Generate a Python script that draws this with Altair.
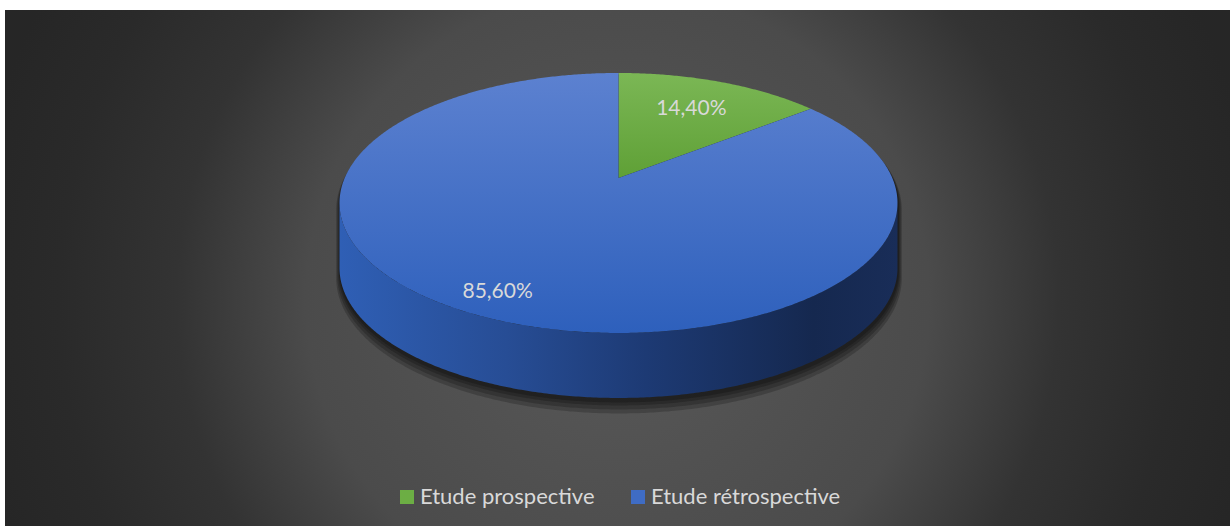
import math
import altair as alt

# ---- data ----
categories = ["Etude prospective", "Etude rétrospective"]
values = [14.4, 85.6]
labels = ["14,40%", "85,60%"]

# ---- layout / style constants ----
VIEW_W, VIEW_H = 1225, 516
S = 273.8                  # horizontal radius scale (px)
RATIO = 125.2 / 273.8      # vertical squash of the tilted disc
K = 0.192                  # perspective strength
THICK = 65 / S             # disc thickness (units)
APEX = [613.5, 168.0]      # pie centre in view pixels
LABEL_FRAC = [0.68, 0.86]

PROJ = dict(type="identity", reflectY=True, scale=S, translate=APEX)


def proj(deg, f=1.0):
    t = math.radians(deg)
    w = 1 + K * f * math.cos(t)
    return [f * math.sin(t) / w, RATIO * f * math.cos(t) / w]


def arc(a0, a1, dy=0.0):
    n = max(2, int(abs(a1 - a0) / 0.5) + 1)
    pts = []
    for i in range(n):
        a = a0 + (a1 - a0) * i / (n - 1)
        x, y = proj(a)
        pts.append([x, y + dy])
    return pts


def feature(ring, **props):
    ring = ring + [ring[0]]
    return {"type": "Feature", "properties": props,
            "geometry": {"type": "Polygon", "coordinates": [ring]}}


total = sum(values)
starts, ends = [], []
acc = 0.0
for v in values:
    starts.append(acc / total * 360)
    acc += v
    ends.append(acc / total * 360)

TL = math.degrees(math.acos(-K))
TR = 360 - TL

top_feats = [feature([[0.0, 0.0]] + arc(a0, a1), name=c)
             for c, a0, a1 in zip(categories, starts, ends)]

side_feats = []
for c, a0, a1 in zip(categories, starts, ends):
    lo, hi = max(a0, TL), min(a1, TR)
    if lo < hi:
        side_feats.append(feature(arc(lo, hi) + arc(hi, lo, dy=-THICK), name=c))

sil = arc(-TL, TL) + arc(TL, TR, dy=-THICK)
xs = [p[0] for p in sil]
ys = [p[1] for p in sil]
ccx, ccy = (min(xs) + max(xs)) / 2, (min(ys) + max(ys)) / 2
hw, hh = (max(xs) - min(xs)) / 2 * S, (max(ys) - min(ys)) / 2 * S
shadow_feats = []
for e in [7, 5, 3, 1.5]:
    sx = 1 + 0.55 * e / hw
    sy = 1 + e / hh
    dx, dy = 0.5 / S, -(e + 1.5) / S
    ring = [[ccx + (x - ccx) * sx + dx, ccy + (y - ccy) * sy + dy] for x, y in sil]
    shadow_feats.append(feature(ring, e=e))

label_rows = []
for c, a0, a1, lab, f in zip(categories, starts, ends, labels, LABEL_FRAC):
    lon, lat = proj((a0 + a1) / 2, f)
    label_rows.append({"category": c, "label": lab, "lon": lon, "lat": lat})

# ---- gradients ----
bg_grad = alt.RadialGradient(
    gradient="radial", x1=0.5, y1=0.526, r1=0, x2=0.5, y2=0.526, r2=0.53,
    stops=[alt.GradientStop(color="#595959", offset=0),
           alt.GradientStop(color="#4b4b4b", offset=0.48),
           alt.GradientStop(color="#333333", offset=0.68),
           alt.GradientStop(color="#2a2a2a", offset=0.86),
           alt.GradientStop(color="#262626", offset=1)])

side_grad = alt.LinearGradient(
    gradient="linear", x1=0, y1=0, x2=1, y2=0,
    stops=[alt.GradientStop(color="#2f5fb5", offset=0),
           alt.GradientStop(color="#274d95", offset=0.3),
           alt.GradientStop(color="#1d3a74", offset=0.55),
           alt.GradientStop(color="#15284f", offset=0.85),
           alt.GradientStop(color="#192d58", offset=1)])

top_grads = {
    categories[0]: alt.LinearGradient(
        gradient="linear", x1=0, y1=0, x2=0, y2=1,
        stops=[alt.GradientStop(color="#7bb755", offset=0),
               alt.GradientStop(color="#5fa036", offset=1)]),
    categories[1]: alt.LinearGradient(
        gradient="linear", x1=0, y1=0, x2=0, y2=1,
        stops=[alt.GradientStop(color="#5c81d0", offset=0),
               alt.GradientStop(color="#2e60bc", offset=1)]),
}
legend_colors = ["#6cae44", "#3f6cc4"]

# ---- layers ----
background = alt.Chart(alt.Data(values=[{"k": 1}])).mark_rect(
    fill=bg_grad, strokeWidth=0
).encode(x=alt.value(0), x2=alt.value(VIEW_W), y=alt.value(0), y2=alt.value(VIEW_H))

shadow = alt.Chart(alt.Data(values=shadow_feats)).mark_geoshape(
    fill="#000000", fillOpacity=0.2, strokeWidth=0
).project(**PROJ)

side = alt.Chart(alt.Data(values=side_feats)).mark_geoshape(
    fill=side_grad, strokeWidth=0
).project(**PROJ)

tops = [alt.Chart(alt.Data(values=[f])).mark_geoshape(
            fill=top_grads[f["properties"]["name"]], strokeWidth=0
        ).project(**PROJ) for f in top_feats]

text = alt.Chart(alt.Data(values=label_rows)).mark_text(
    font="Lato", fontSize=21, color="#d9d9d9", align="center", baseline="middle"
).encode(longitude="lon:Q", latitude="lat:Q", text="label:N").project(**PROJ)

legend_pts = alt.Chart(alt.Data(values=label_rows)).mark_point(
    filled=True, shape="square", opacity=0
).encode(
    longitude="lon:Q", latitude="lat:Q",
    color=alt.Color("category:N",
                    scale=alt.Scale(domain=categories, range=legend_colors),
                    legend=alt.Legend(title=None, orient="none", legendX=391, legendY=476,
                                      direction="horizontal", symbolType="square",
                                      symbolSize=196, symbolOpacity=1, symbolStrokeWidth=0,
                                      labelFont="Lato", labelFontSize=22, labelLimit=0,
                                      labelColor="#d9d9d9", labelOffset=2,
                                      columnPadding=32, padding=0)),
).project(**PROJ)

chart = alt.layer(background, shadow, side, *tops, text, legend_pts).properties(
    width=VIEW_W, height=VIEW_H,
    padding={"left": 5, "top": 10, "right": 0, "bottom": 0},
    background="white", autosize="none",
).configure_view(strokeWidth=0)

chart.save("out.html", embed_options={"renderer": "svg", "actions": False})
